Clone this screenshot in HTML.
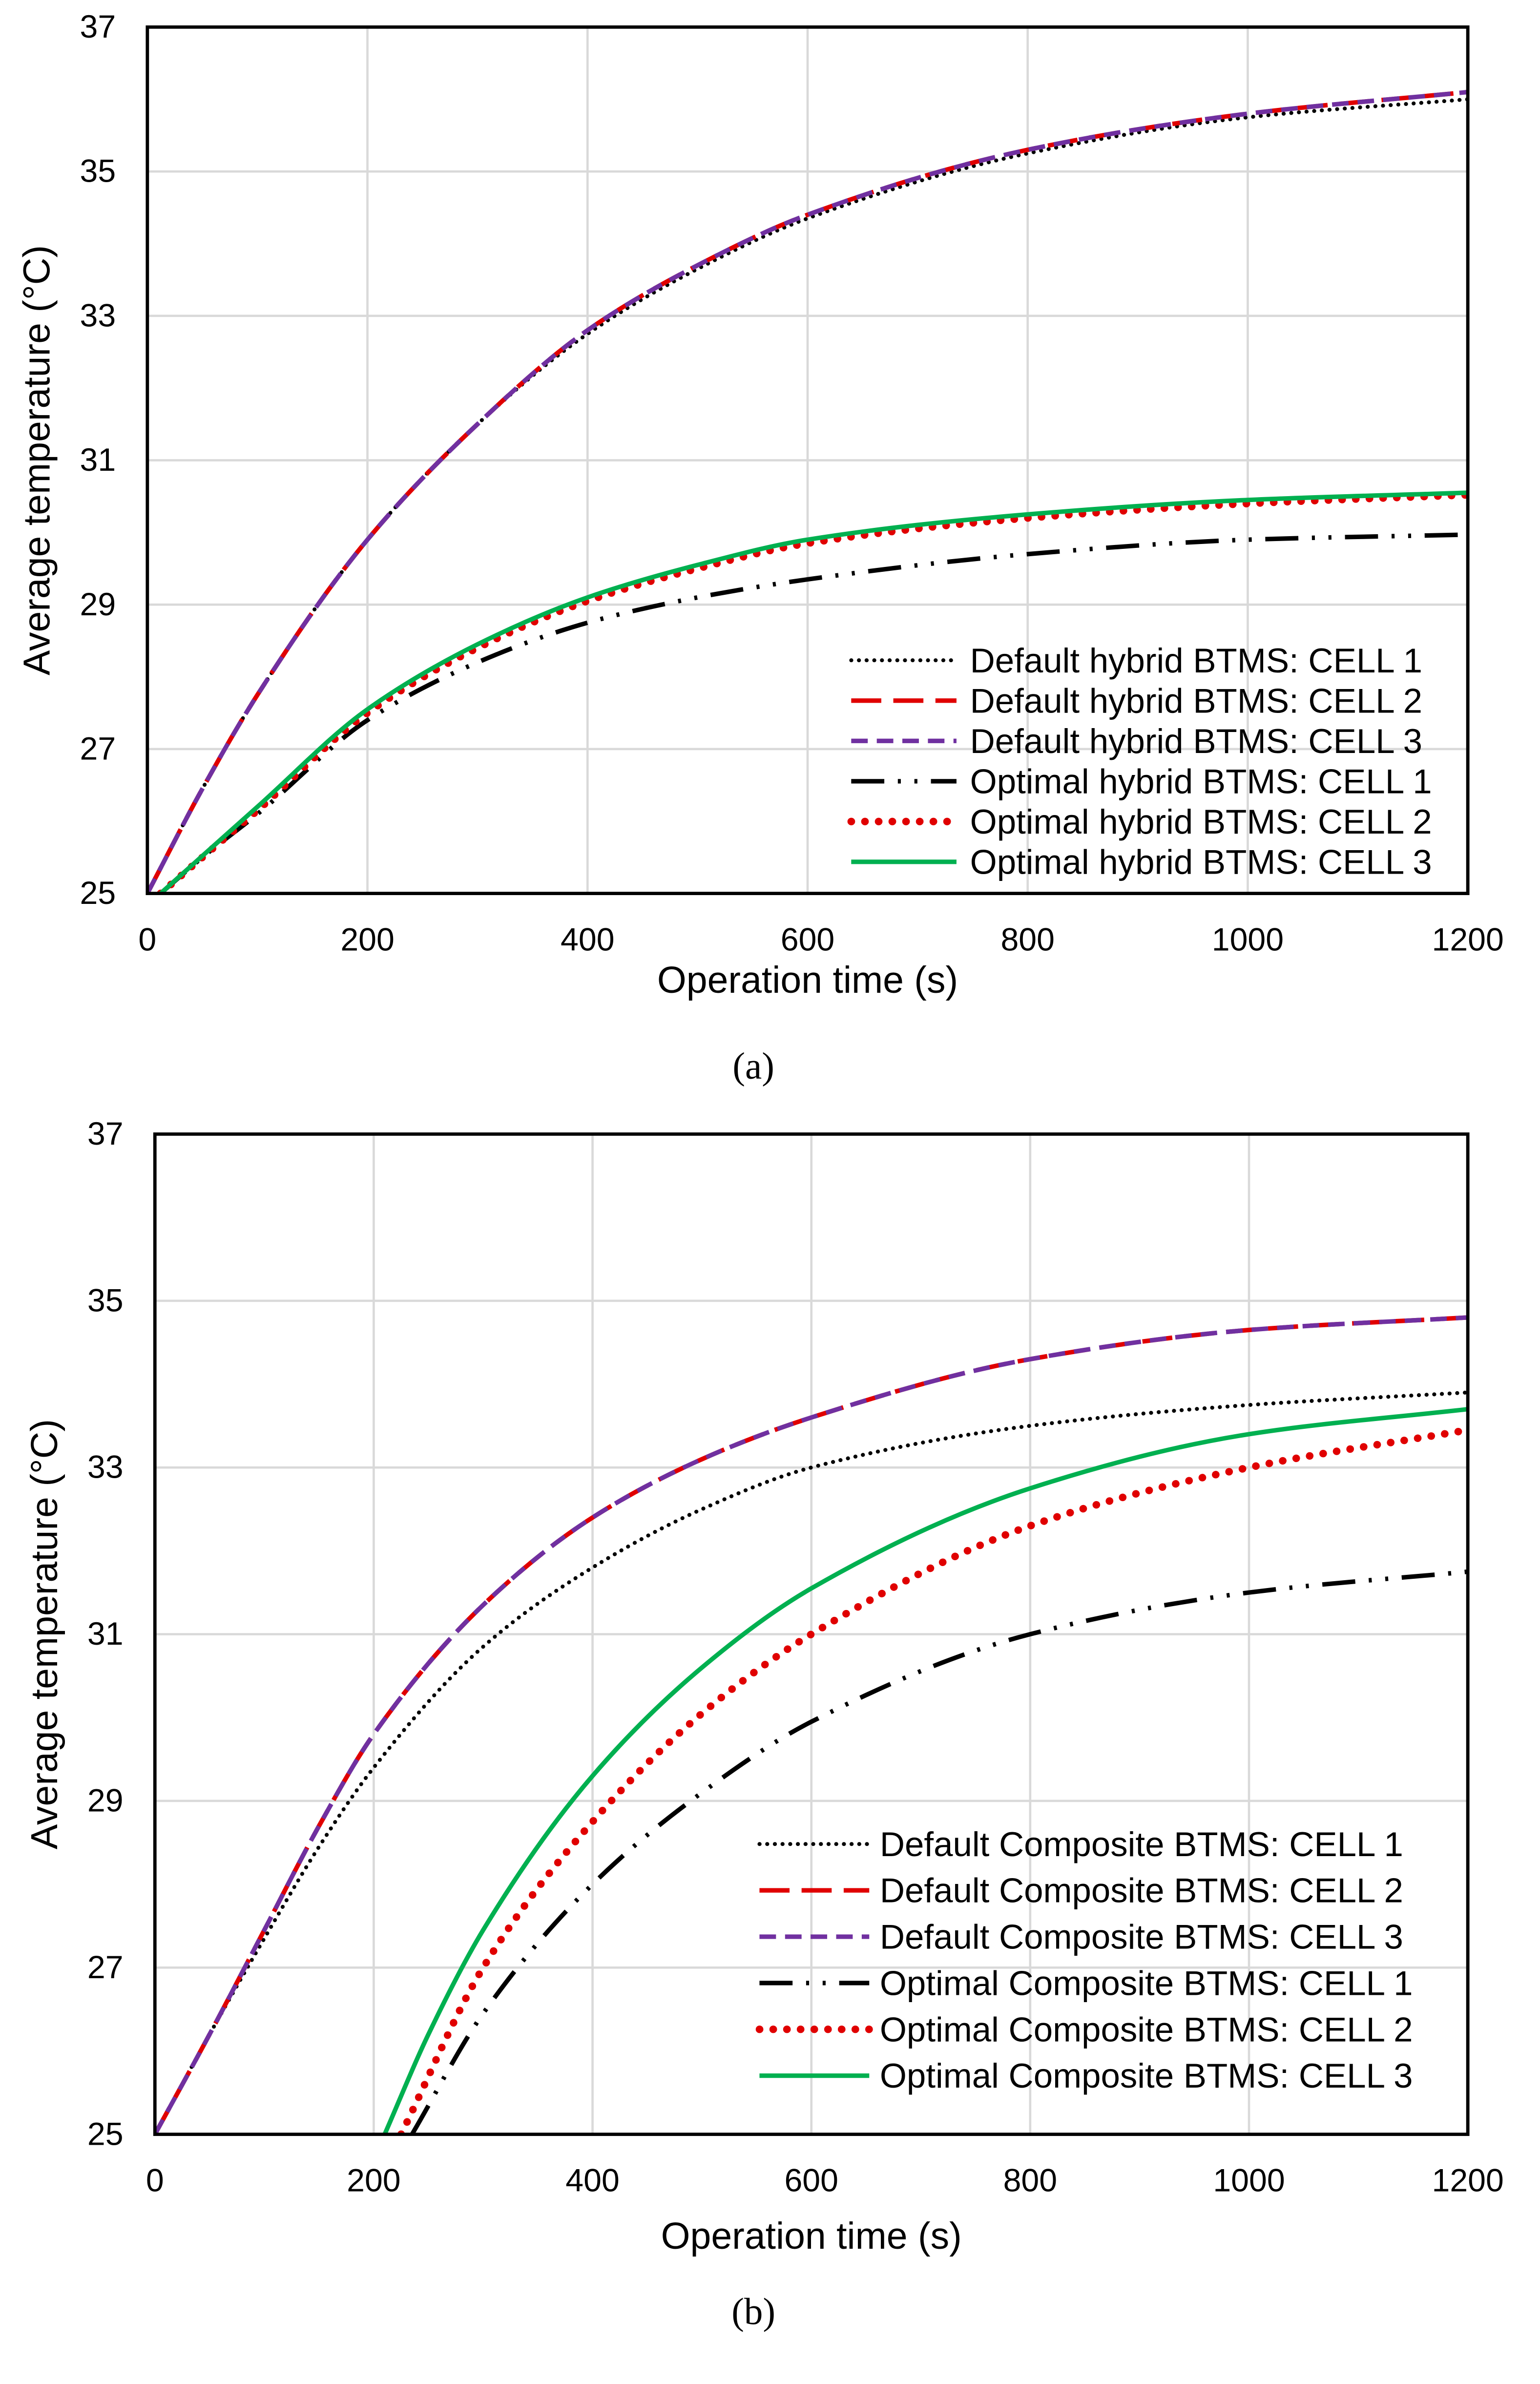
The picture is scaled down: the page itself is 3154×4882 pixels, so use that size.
<!DOCTYPE html>
<html><head><meta charset="utf-8">
<style>html,body{margin:0;padding:0;background:#fff;}svg{display:block;}text{font-family:"Liberation Sans",sans-serif;fill:#000;}</style>
</head><body>
<svg id="chart" width="3154" height="4882" viewBox="0 0 1024 1585" preserveAspectRatio="none" xmlns="http://www.w3.org/2000/svg">
<rect width="1024" height="1585" fill="#fff"/>
<g id="pa"></g>
<g id="pb"></g>
<text x="501" y="717" font-size="25" text-anchor="middle" style="font-family:'Liberation Serif',serif">(a)</text>
<text x="501" y="1545" font-size="25" text-anchor="middle" style="font-family:'Liberation Serif',serif">(b)</text>
</svg>
<script>
const xTicks = [0,200,400,600,800,1000,1200];
const yTicks = [25,27,29,31,33,35,37];
// Panel A data
const aTime = [0,50,100,200,300,400,500,600,800,1000,1200];
const aDef1 = [25,26.45,27.75,29.9,31.5,32.75,33.65,34.35,35.25,35.75,36.0];
const aDef2 = [25,26.45,27.75,29.9,31.5,32.8,33.7,34.4,35.3,35.8,36.1];
const aDef3 = [25,26.45,27.75,29.9,31.5,32.8,33.7,34.4,35.3,35.8,36.1];
const aOptTime = [12,50,100,200,300,400,500,600,800,1000,1200];
const aOpt1 = [25,25.5,26.1,27.4,28.2,28.75,29.1,29.35,29.7,29.9,29.97];
const aOpt2 = [25,25.5,26.15,27.5,28.4,29.05,29.5,29.85,30.2,30.4,30.52];
const aOpt3 = [25,25.52,26.2,27.55,28.45,29.1,29.55,29.9,30.25,30.45,30.55];
// Panel B data
const bTime = [0,50,100,150,200,300,400,500,600,800,1000,1200];
const bDef1 = [25,26.2,27.35,28.45,29.4,30.85,31.8,32.5,33.0,33.5,33.75,33.9];
const bDef2 = [25,26.2,27.45,28.7,29.8,31.35,32.4,33.1,33.6,34.3,34.65,34.8];
const bDef3 = [25,26.2,27.45,28.7,29.8,31.35,32.4,33.1,33.6,34.3,34.65,34.8];
const bOpt1Time = [235,300,400,500,600,800,1000,1200];
const bOpt1 = [25,26.45,28.0,29.1,29.95,31.0,31.5,31.75];
const bOpt2Time = [225,300,400,500,600,800,1000,1200];
const bOpt2 = [25,27.0,28.75,30.05,31.0,32.3,33.0,33.45];
const bOpt3Time = [210,250,300,400,500,600,800,1000,1200];
const bOpt3 = [25,26.2,27.45,29.3,30.6,31.55,32.75,33.4,33.7];

const NS='http://www.w3.org/2000/svg';
function mk(tag, attrs, parent){const e=document.createElementNS(NS,tag);for(const k in attrs)e.setAttribute(k,attrs[k]);parent.appendChild(e);return e;}
const styles = {
 def1:{stroke:'#000','stroke-width':2.6,'stroke-dasharray':'0.1 5','stroke-linecap':'round'},
 def2:{stroke:'#e00000','stroke-width':3,'stroke-dasharray':'20 8'},
 def3:{stroke:'#7030a0','stroke-width':3,'stroke-dasharray':'11 6'},
 opt1:{stroke:'#000','stroke-width':3,'stroke-dasharray':'22 9 2 9 2 9'},
 opt2:{stroke:'#e00000','stroke-width':5,'stroke-dasharray':'0.1 9','stroke-linecap':'round'},
 opt3:{stroke:'#00b050','stroke-width':3}
};
// monotone cubic (Fritsch-Carlson) in data space
function pathD(xs,ys,X,Y){
 const n=xs.length, d=[], m=new Array(n);
 for(let i=0;i<n-1;i++) d.push((ys[i+1]-ys[i])/(xs[i+1]-xs[i]));
 m[0]=d[0]; m[n-1]=d[n-2];
 for(let i=1;i<n-1;i++){
  if(d[i-1]*d[i]<=0) m[i]=0;
  else {const h0=xs[i]-xs[i-1],h1=xs[i+1]-xs[i];const w1=2*h1+h0,w2=h1+2*h0;m[i]=(w1+w2)/(w1/d[i-1]+w2/d[i]);}
 }
 let s='M'+X(xs[0])+','+Y(ys[0]);
 for(let i=0;i<n-1;i++){
  const h=xs[i+1]-xs[i];
  const c1x=xs[i]+h/3,c1y=ys[i]+m[i]*h/3,c2x=xs[i+1]-h/3,c2y=ys[i+1]-m[i+1]*h/3;
  s+=' C'+X(c1x)+','+Y(c1y)+' '+X(c2x)+','+Y(c2y)+' '+X(xs[i+1])+','+Y(ys[i+1]);
 }
 return s;
}
function panel(g,id,L,R,T,B,series,legend,xtY,ytX,yTitleX,xTitleY){
 const X=v=>L+(v-0)/1200*(R-L);
 const Y=v=>B-(v-25)/12*(B-T);
 const cp=mk('clipPath',{id:'clip'+id},g);mk('rect',{x:L,y:T,width:R-L,height:B-T},cp);
 xTicks.forEach(t=>{
  if(t>0&&t<1200){const l=mk('line',{x1:X(t),x2:X(t),y1:T,y2:B,stroke:'#d9d9d9','stroke-width':1.5},g);
  
  }
  const tx=mk('text',{x:X(t),y:xtY,'font-size':21.5,'text-anchor':'middle'},g);tx.textContent=t;
  
  
 });
 yTicks.forEach(t=>{
  if(t>25&&t<37){const l=mk('line',{x1:L,x2:R,y1:Y(t),y2:Y(t),stroke:'#d9d9d9','stroke-width':1.5},g);
  
  }
  const tx=mk('text',{x:ytX,y:Y(t)+7,'font-size':21.5,'text-anchor':'end'},g);tx.textContent=t;
  
  
 });
 const sg=mk('g',{'clip-path':'url(#clip'+id+')'},g);
 series.forEach(s=>{
  const p=mk('path',Object.assign({d:pathD(s.x,s.y,X,Y),fill:'none'},styles[s.k]),sg);
  
  
 });
 const fr=mk('rect',{x:L,y:T,width:R-L,height:B-T,fill:'none',stroke:'#000','stroke-width':2.2},g);
 
 
 const xt=mk('text',{x:(L+R)/2,y:xTitleY,'font-size':25,'text-anchor':'middle'},g);xt.textContent='Operation time (s)';
 
 
 const yc=(T+B)/2;
 const yt=mk('text',{x:yTitleX,y:yc,'font-size':25,'text-anchor':'middle',transform:'rotate(-90 '+yTitleX+' '+yc+')'},g);yt.textContent='Average temperature (°C)';
 
 
 legend.items.forEach((it,i)=>{
  const y=legend.y0+i*legend.dy;
  const lg=mk('g',{},g);
  
  
  mk('line',Object.assign({x1:legend.x1,x2:legend.x2,y1:y,y2:y},styles[it.k]),lg);
  const t=mk('text',{x:legend.tx,y:y+8,'font-size':23},lg);t.textContent=it.label;
 });
}
const ga=document.getElementById('pa');
panel(ga,'a',98,976,18,594,[
 {k:'def1',x:aTime,y:aDef1},{k:'def2',x:aTime,y:aDef2},{k:'def3',x:aTime,y:aDef3},
 {k:'opt1',x:aOptTime,y:aOpt1},{k:'opt2',x:aOptTime,y:aOpt2},{k:'opt3',x:aOptTime,y:aOpt3}],
 {x1:566,x2:636,tx:645,y0:439,dy:26.8,items:[
 {k:'def1',label:'Default hybrid BTMS: CELL 1'},{k:'def2',label:'Default hybrid BTMS: CELL 2'},
 {k:'def3',label:'Default hybrid BTMS: CELL 3'},{k:'opt1',label:'Optimal hybrid BTMS: CELL 1'},
 {k:'opt2',label:'Optimal hybrid BTMS: CELL 2'},{k:'opt3',label:'Optimal hybrid BTMS: CELL 3'}]},
 632,77,33,660);
const gb=document.getElementById('pb');
panel(gb,'b',103,976,754,1419,[
 {k:'def1',x:bTime,y:bDef1},{k:'def2',x:bTime,y:bDef2},{k:'def3',x:bTime,y:bDef3},
 {k:'opt1',x:bOpt1Time,y:bOpt1},{k:'opt2',x:bOpt2Time,y:bOpt2},{k:'opt3',x:bOpt3Time,y:bOpt3}],
 {x1:505,x2:578,tx:585,y0:1226,dy:30.8,items:[
 {k:'def1',label:'Default Composite BTMS: CELL 1'},{k:'def2',label:'Default Composite BTMS: CELL 2'},
 {k:'def3',label:'Default Composite BTMS: CELL 3'},{k:'opt1',label:'Optimal Composite BTMS: CELL 1'},
 {k:'opt2',label:'Optimal Composite BTMS: CELL 2'},{k:'opt3',label:'Optimal Composite BTMS: CELL 3'}]},
 1457,82,38,1495);
</script>
</body></html>
